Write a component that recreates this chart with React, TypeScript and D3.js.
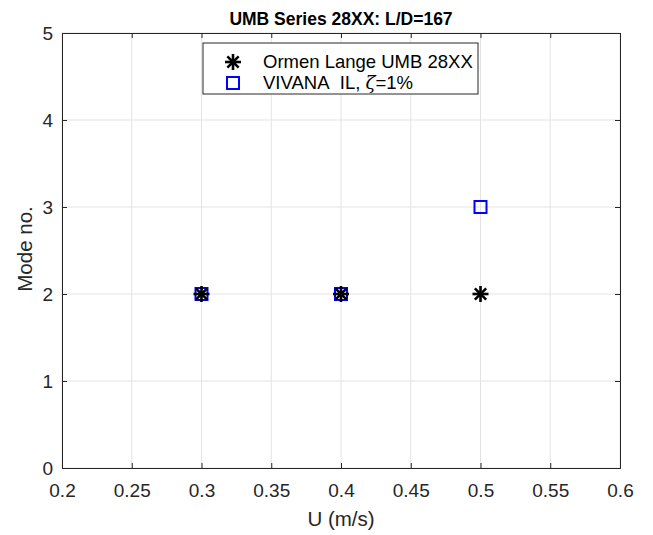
import React, { useEffect, useRef } from "react";
import * as d3 from "d3";

// data
const ormenU = [0.3, 0.4, 0.5];
const ormenMode = [2, 2, 2];
const vivanaU = [0.3, 0.4, 0.5];
const vivanaMode = [2, 2, 3];
const xTicks = [0.2, 0.25, 0.3, 0.35, 0.4, 0.45, 0.5, 0.55, 0.6];
const yTicks = [0, 1, 2, 3, 4, 5];

const App = () => {
  const ref = useRef<SVGSVGElement>(null);

  useEffect(() => {
    const svg = d3.select(ref.current);
    svg.selectAll("*").remove();

    const width = 653;
    const height = 535;
    const margin = { top: 33, right: 33, bottom: 67, left: 62 };
    const w = width - margin.left - margin.right;
    const h = height - margin.top - margin.bottom;
    const font = "Liberation Sans, Arial, Helvetica, sans-serif";
    const textColor = "#262626";

    svg.append("rect").attr("width", width).attr("height", height).attr("fill", "#fff");

    const g = svg.append("g").attr("transform", `translate(${margin.left},${margin.top})`);

    const x = d3.scaleLinear().domain([0.2, 0.6]).range([0, w]);
    const y = d3.scaleLinear().domain([0, 5]).range([h, 0]);

    // grid
    g.selectAll(".gx")
      .data(xTicks)
      .enter()
      .append("line")
      .attr("x1", d => x(d))
      .attr("x2", d => x(d))
      .attr("y1", 0)
      .attr("y2", h)
      .attr("stroke", "#e3e3e3")
      .attr("stroke-width", 1);
    g.selectAll(".gy")
      .data(yTicks)
      .enter()
      .append("line")
      .attr("y1", d => y(d))
      .attr("y2", d => y(d))
      .attr("x1", 0)
      .attr("x2", w)
      .attr("stroke", "#e3e3e3")
      .attr("stroke-width", 1);

    // axes (ticks point inward, mirrored on top/right)
    const xAxis = d3.axisBottom(x).tickValues(xTicks).tickSize(-5).tickPadding(16)
      .tickFormat(d => String(+d));
    const yAxis = d3.axisLeft(y).tickValues(yTicks).tickSize(-5).tickPadding(9)
      .tickFormat(d => String(d));

    const gx = g.append("g").attr("transform", `translate(0,${h})`).call(xAxis);
    const gy = g.append("g").call(yAxis);
    g.append("g").call(d3.axisTop(x).tickValues(xTicks).tickSize(-5).tickFormat(() => ""));
    g.append("g").attr("transform", `translate(${w},0)`)
      .call(d3.axisRight(y).tickValues(yTicks).tickSize(-5).tickFormat(() => ""));

    g.selectAll(".domain").attr("stroke", textColor).attr("stroke-width", 1);
    g.selectAll(".tick line").attr("stroke", textColor);
    [gx, gy].forEach(a =>
      a.selectAll("text").attr("font-family", font).attr("font-size", 19).attr("fill", textColor)
    );
    gy.selectAll("text").attr("dy", "0.35em");

    // VIVANA squares
    g.selectAll(".sq")
      .data(vivanaU.map((u, i) => [u, vivanaMode[i]]))
      .enter()
      .append("rect")
      .attr("x", d => x(d[0]) - 6)
      .attr("y", d => y(d[1]) - 6)
      .attr("width", 12)
      .attr("height", 12)
      .attr("fill", "none")
      .attr("stroke", "#0000ff")
      .attr("stroke-width", 2);

    // Ormen Lange asterisks
    const star = (sel: any, cx: number, cy: number, r: number) => {
      const a = r * Math.SQRT1_2;
      const segs = [
        [-r, 0, r, 0],
        [0, -r, 0, r],
        [-a, -a, a, a],
        [-a, a, a, -a],
      ];
      segs.forEach(s =>
        sel.append("line")
          .attr("x1", cx + s[0]).attr("y1", cy + s[1])
          .attr("x2", cx + s[2]).attr("y2", cy + s[3])
          .attr("stroke", "#000").attr("stroke-width", 2.6)
      );
    };
    ormenU.forEach((u, i) => star(g, x(u), y(ormenMode[i]), 8));

    // legend
    const lg = svg.append("g");
    lg.append("rect")
      .attr("x", 203).attr("y", 43).attr("width", 275).attr("height", 51)
      .attr("fill", "#fff").attr("stroke", textColor).attr("stroke-width", 1);
    star(lg, 233, 62, 8);
    lg.append("rect")
      .attr("x", 227).attr("y", 77).attr("width", 12).attr("height", 12)
      .attr("fill", "none").attr("stroke", "#0000ff").attr("stroke-width", 2);
    lg.append("text")
      .attr("x", 263).attr("y", 62).attr("dy", "0.35em")
      .attr("font-family", font).attr("font-size", 18.5).attr("fill", "#000")
      .text("Ormen Lange UMB 28XX");
    const t2 = lg.append("text")
      .attr("x", 263).attr("y", 83).attr("dy", "0.35em")
      .attr("font-family", font).attr("font-size", 18.5).attr("fill", "#000");
    t2.append("tspan").text("VIVANA\u00a0\u00a0IL, ");
    t2.append("tspan").attr("font-family", "DejaVu Serif, serif").attr("font-style", "italic").text("ζ");
    t2.append("tspan").text("=1%");

    // title and labels
    svg.append("text")
      .attr("x", margin.left + w / 2).attr("y", 25)
      .attr("text-anchor", "middle")
      .attr("font-family", font).attr("font-size", 17.5).attr("font-weight", "bold")
      .attr("fill", "#000")
      .text("UMB Series 28XX: L/D=167");

    svg.append("text")
      .attr("x", margin.left + w / 2).attr("y", 526)
      .attr("text-anchor", "middle")
      .attr("font-family", font).attr("font-size", 20.5).attr("fill", textColor)
      .text("U (m/s)");

    svg.append("text")
      .attr("transform", `translate(32,249) rotate(-90)`)
      .attr("text-anchor", "middle")
      .attr("font-family", font).attr("font-size", 20.5).attr("fill", textColor)
      .text("Mode no.");
  }, []);

  return (
    <svg ref={ref} width={653} height={535} style={{ position: "absolute", left: 0, top: 0 }} />
  );
};

export default App;
